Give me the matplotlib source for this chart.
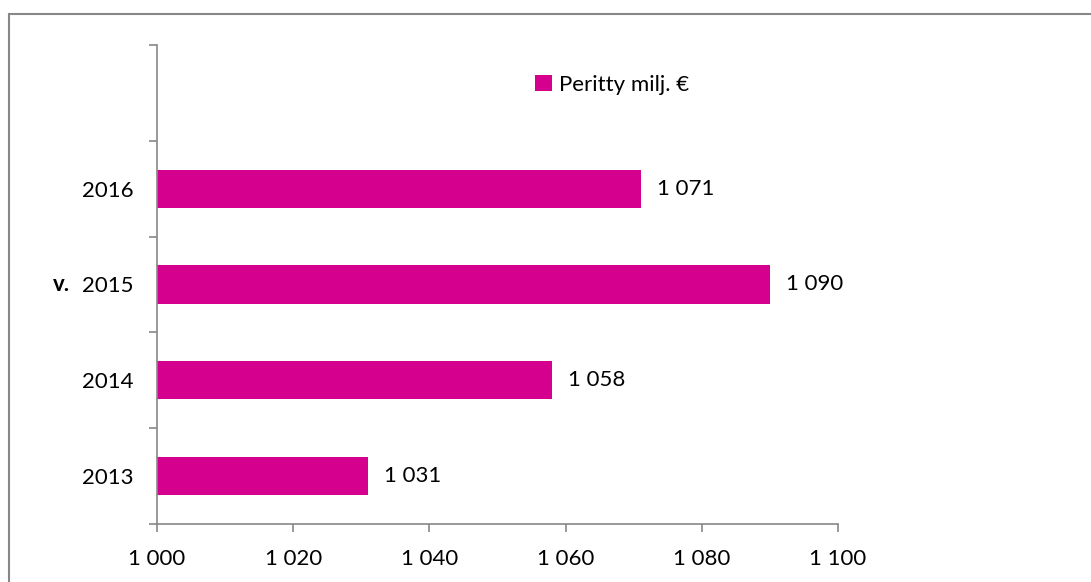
import matplotlib
matplotlib.use('Agg')
import matplotlib.pyplot as plt
from matplotlib.patches import Rectangle
import numpy as np

plt.rcParams['font.family'] = ['Lato', 'DejaVu Sans']

years = ['2013', '2014', '2015', '2016']
values = [1031, 1058, 1090, 1071]
value_labels = ['1 031', '1 058', '1 090', '1 071']
xticks = [1000, 1020, 1040, 1060, 1080, 1100]
xtick_labels = ['1 000', '1 020', '1 040', '1 060', '1 080', '1 100']

pink = '#d6008f'
grey = '#878787'
fs = 16

fig = plt.figure(figsize=(10.91, 5.82), dpi=100)
ax = fig.add_axes([157/1091, 1-524/582, (838-157)/1091, (524-45)/582])

# outer chart border
fig.patches.append(Rectangle((9/1091, -0.1), 1.2, 1-14/582+0.1, transform=fig.transFigure,
                             fill=False, edgecolor=grey, linewidth=1.5))

pos = np.arange(len(years))
ax.barh(pos, [v - 1000 for v in values], left=1000, height=0.4, color=pink,
        label='Peritty milj. €')
for p, v, t in zip(pos, values, value_labels):
    ax.text(v + 2.4, p, t, va='center', ha='left', fontsize=fs)

ax.set_xlim(1000, 1100)
ax.set_ylim(-0.5, 4.5)
ax.set_xticks(xticks)
ax.set_xticklabels(xtick_labels, fontsize=fs)
ax.set_yticks(pos)
ax.set_yticklabels(years, fontsize=fs)
ax.set_yticks(np.arange(-0.5, 5, 1), minor=True)
ax.tick_params(axis='y', which='major', length=0, pad=17)
ax.tick_params(axis='y', which='minor', length=6, color=grey, width=1.2)
ax.tick_params(axis='x', length=6, color=grey, width=1.2, pad=12)
for s in ['top', 'right']:
    ax.spines[s].set_visible(False)
for s in ['left', 'bottom']:
    ax.spines[s].set_color(grey)
    ax.spines[s].set_linewidth(1.2)

ax.set_ylabel('v.', rotation=0, fontweight='bold', fontsize=fs, va='center')
ax.yaxis.set_label_coords(-0.14, 0.5)

ax.legend(loc='upper left', bbox_to_anchor=(0.526, 0.98), frameon=False, fontsize=fs,
          handlelength=0.75, handleheight=0.75, handletextpad=0.3)

fig.savefig('out.png', dpi=100)
